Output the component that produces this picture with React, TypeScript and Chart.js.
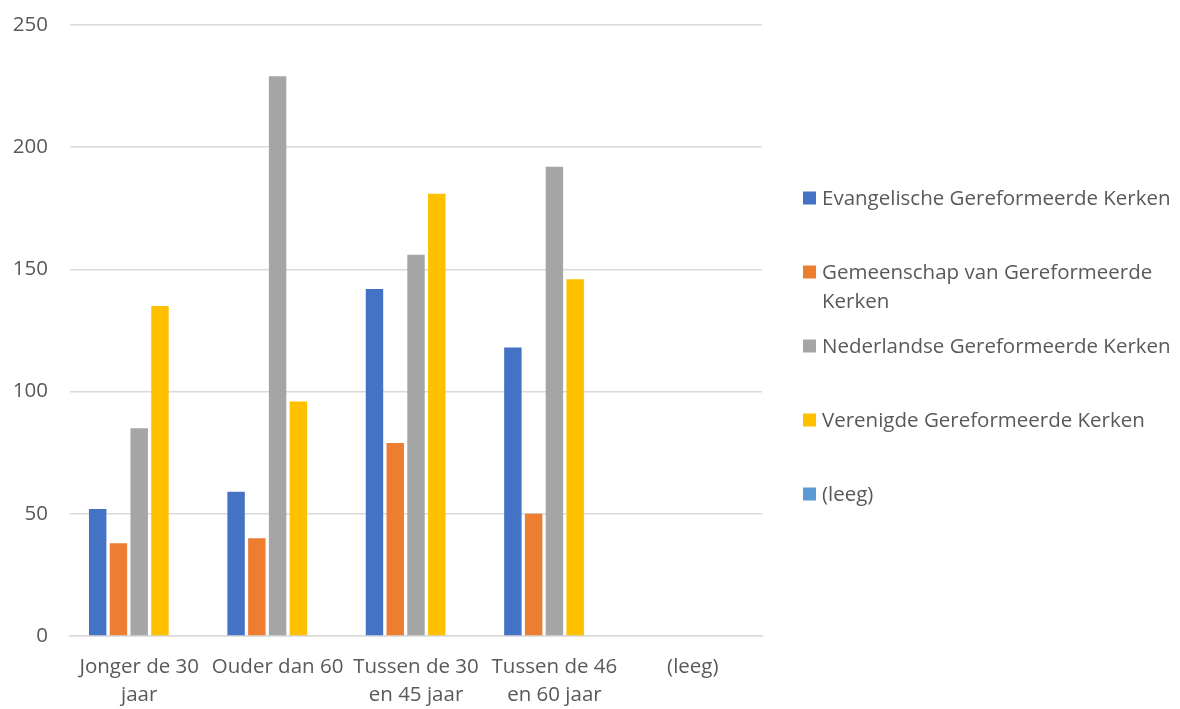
import React, { useEffect, useRef } from "react";
import { Chart, registerables } from "chart.js";

Chart.register(...registerables);

const categories: (string | string[])[] = [
  ["Jonger de 30", "jaar"],
  "Ouder dan 60",
  ["Tussen de 30", "en 45 jaar"],
  ["Tussen de 46", "en 60 jaar"],
  "(leeg)",
];

const seriesNames = [
  "Evangelische Gereformeerde Kerken",
  "Gemeenschap van Gereformeerde Kerken",
  "Nederlandse Gereformeerde Kerken",
  "Verenigde Gereformeerde Kerken",
  "(leeg)",
];

const evangelische = [52, 59, 142, 118, null];
const gemeenschap = [38, 40, 79, 50, null];
const nederlandse = [85, 229, 156, 192, null];
const verenigde = [135, 96, 181, 146, null];
const leeg = [null, null, null, null, null];

const yTicks = [0, 50, 100, 150, 200, 250];

const colors = ["#4472C4", "#ED7D31", "#A5A5A5", "#FFC000", "#5B9BD5"];
const FONT = "'Open Sans', sans-serif";
const TEXT = "#595959";
const FS = 20.5;

const legendPlugin = {
  id: "sideLegend",
  afterDraw(chart: any) {
    const ctx = chart.ctx;
    const boxX = 803;
    const textX = 822;
    const maxW = chart.width - textX + 2;
    const startY = 198;
    const step = 74;
    const lineH = 29;
    ctx.save();
    ctx.font = `${FS}px ${FONT}`;
    ctx.textBaseline = "middle";
    ctx.textAlign = "left";
    chart.data.datasets.forEach((ds: any, i: number) => {
      const cy = startY + i * step;
      ctx.fillStyle = ds.backgroundColor;
      ctx.fillRect(boxX, cy - 6.5, 13, 13);
      const words = String(ds.label).split(" ");
      const lines: string[] = [];
      let cur = "";
      words.forEach((w) => {
        const t = cur ? cur + " " + w : w;
        if (ctx.measureText(t).width > maxW && cur) {
          lines.push(cur);
          cur = w;
        } else cur = t;
      });
      if (cur) lines.push(cur);
      ctx.fillStyle = TEXT;
      lines.forEach((l, j) => ctx.fillText(l, textX, cy + j * lineH + 1));
    });
    ctx.restore();
  },
};

export default function App() {
  const ref = useRef<HTMLCanvasElement | null>(null);
  useEffect(() => {
    if (!ref.current) return;
    const data = [evangelische, gemeenschap, nederlandse, verenigde, leeg];
    const chart = new Chart(ref.current, {
      type: "bar",
      data: {
        labels: categories,
        datasets: data.map((d, i) => ({
          label: seriesNames[i],
          data: d,
          backgroundColor: colors[i],
          borderWidth: 0,
          categoryPercentage: 0.75,
          barPercentage: 0.84,
        })),
      },
      plugins: [legendPlugin],
      options: {
        animation: false,
        responsive: false,
        maintainAspectRatio: false,
        layout: { padding: { top: 25, right: 418, bottom: 0, left: 0 } },
        plugins: {
          legend: { display: false },
          tooltip: { enabled: false },
        },
        scales: {
          x: {
            grid: { display: false, drawTicks: false },
            border: { display: true, color: "#D9D9D9", width: 1.5 },
            ticks: {
              color: TEXT,
              font: { family: FONT, size: FS, lineHeight: 1.36 },
              maxRotation: 0,
              minRotation: 0,
              autoSkip: false,
              padding: 17,
            },
            afterFit(scale: any) {
              scale.height = 73;
              scale.paddingLeft = 0;
              scale.paddingRight = 0;
            },
          },
          y: {
            min: 0,
            max: 250,
            afterBuildTicks(scale: any) {
              scale.ticks = yTicks.map((v) => ({ value: v }));
            },
            grid: { color: "#D9D9D9", lineWidth: 1.5, drawTicks: false },
            border: { display: false },
            ticks: {
              color: TEXT,
              font: { family: FONT, size: FS },
              padding: 22,
            },
            afterFit(scale: any) {
              scale.width = 70;
              scale.paddingTop = 0;
              scale.paddingBottom = 0;
            },
          },
        },
      },
    });
    return () => chart.destroy();
  }, []);
  return (
    <div style={{ position: "fixed", left: 0, top: 0, width: 1180, height: 709, background: "#fff" }}>
      <canvas ref={ref} width={1180} height={709} style={{ width: 1180, height: 709 }} />
    </div>
  );
}
